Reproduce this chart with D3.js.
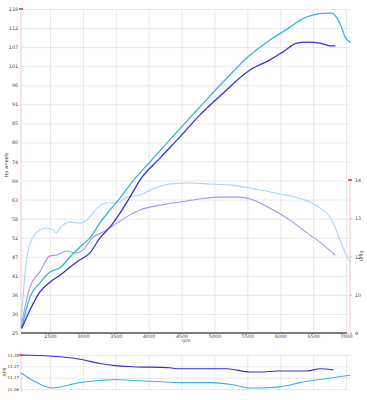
<!DOCTYPE html>
<html><head><meta charset="utf-8">
<script src="https://cdn.jsdelivr.net/npm/d3@7"></script>
<style>
body{margin:0;background:#fff;}
svg text{font-family:"DejaVu Sans",sans-serif;}
</style></head>
<body><svg id="c" width="367" height="400"></svg>
<script>
// ---- data ----
const rpmTicks = [2500,3000,3500,4000,4500,5000,5500,6000,6500,7000];
const hpTickLabels = ["25","30","36","41","47","52","58","63","69","74","80","85","91","96","101","107","112","118"];
const tqTickLabels = ["9","10","12","13","14"];
const afrTickLabels = ["11.06","11.17","11.27","11.38"];

// power run 1 (dark blue)
const pwr1Rpm = [2074,2196,2348,2500,2652,2804,2956,3108,3260,3412,3564,3716,3868,4172,4476,4780,5084,5540,5844,6042,6254,6406,6604,6756,6832];
const pwr1Hp  = [26.4,31.6,36.8,39.6,41.6,43.9,46.0,48.0,52.3,55.4,59.4,64.0,68.9,75.2,81.3,87.6,93.0,100.5,103.4,105.7,108.2,108.5,108.2,107.4,107.4];
// power run 2 (cyan)
const pwr2Rpm = [2074,2196,2348,2500,2652,2804,2956,3108,3260,3412,3564,3746,4020,4400,4780,5160,5540,5844,6148,6300,6498,6710,6786,6862,6938,6984,7060];
const pwr2Hp  = [26.7,35.3,39.4,42.5,43.7,46.8,49.7,52.3,56.6,60.3,63.7,68.3,74.1,82.1,89.9,97.6,104.8,109.1,112.8,114.8,116.3,116.8,116.8,115.4,112.5,110.0,108.5];
// torque run 2 (light blue)
const tq2Rpm = [2060,2150,2242,2348,2454,2546,2591,2652,2804,2956,3062,3214,3366,3518,3670,3868,4096,4324,4628,4932,5236,5540,5844,6148,6452,6604,6756,6832,6908,6984,7030,7060];
const tq2Val = [9.36,11.48,12.14,12.37,12.43,12.37,12.27,12.43,12.63,12.59,12.69,13.08,13.25,13.25,13.44,13.51,13.74,13.87,13.90,13.87,13.84,13.74,13.61,13.48,13.28,13.08,12.79,12.46,12.04,11.65,11.45,11.32];
// torque run 1 (lavender)
const tq1Rpm = [2060,2196,2348,2500,2606,2758,2880,3002,3138,3306,3518,3716,3868,4172,4476,4780,5084,5388,5540,5844,6148,6452,6604,6832];
const tq1Val = [9.2,10.5,11.0,11.52,11.55,11.68,11.61,11.71,12.10,12.30,12.59,12.86,13.02,13.18,13.28,13.38,13.44,13.44,13.38,13.08,12.69,12.20,11.97,11.55];
// AFR run 1 (dark blue)
const afr1Rpm = [2074,2500,2956,3260,3488,3762,4324,4430,5190,5540,5692,5950,6406,6604,6802];
const afr1Val = [11.38,11.37,11.34,11.30,11.28,11.27,11.26,11.25,11.25,11.22,11.22,11.23,11.23,11.25,11.24];
// AFR run 2 (cyan)
const afr2Rpm = [2060,2242,2530,2956,3260,3488,3762,4126,4522,4932,5282,5540,5692,5996,6300,6604,7060];
const afr2Val = [11.21,11.14,11.07,11.12,11.14,11.15,11.14,11.13,11.12,11.12,11.10,11.07,11.07,11.08,11.12,11.15,11.19];

// ---- scales ----
const svg = d3.select("#c");
const x = d3.scaleLinear().domain([2060,7060]).range([21,350]);
const yHp = d3.scaleLinear().domain([25,118]).range([333,9]);
const yTq = d3.scaleLinear().domain([9,14]).range([333,180]);
const yAfr = d3.scaleLinear().domain([11.06,11.38]).range([389,355]);

const hpVals = hpTickLabels.map((d,i)=>25 + i*93/(hpTickLabels.length-1));
const tqVals = tqTickLabels.map((d,i)=>9 + i*5/(tqTickLabels.length-1));
const afrVals = afrTickLabels.map((d,i)=>11.06 + i*0.32/(afrTickLabels.length-1));

const gridCol = "#e2e2e2";
const txtCol = "#444";

function styleAxis(g, fs){
  g.select(".domain").remove();
  g.selectAll("text").attr("font-size", fs || "5px").attr("fill",txtCol);
}

// main grid: horizontal
svg.append("g").attr("transform","translate(21,0)")
  .call(d3.axisLeft(yHp).tickValues(hpVals).tickFormat((d,i)=>hpTickLabels[i]).tickSize(-329).tickPadding(3))
  .call(g=>styleAxis(g,"4.8px"))
  .call(g=>g.selectAll("line").attr("stroke",gridCol).attr("stroke-width",0.8));
// main grid: vertical + x labels
svg.append("g").attr("transform","translate(0,333)")
  .call(d3.axisBottom(x).tickValues(rpmTicks).tickFormat(d3.format("d")).tickSize(-324).tickPadding(2))
  .call(g=>styleAxis(g,"4.8px"))
  .call(g=>g.selectAll("line").attr("stroke",gridCol).attr("stroke-width",0.8));

// right torque axis
svg.append("g").attr("transform","translate(350,0)")
  .call(d3.axisRight(yTq).tickValues(tqVals).tickFormat((d,i)=>tqTickLabels[i]).tickSize(2).tickPadding(3))
  .call(g=>styleAxis(g,"4.8px"))
  .call(g=>g.selectAll("line").attr("stroke","#bbb"));

// axis lines
svg.append("line").attr("x1",21).attr("x2",21).attr("y1",yHp(118)).attr("y2",333).attr("stroke","#f0c8c8").attr("stroke-width",1);
svg.append("line").attr("x1",350).attr("x2",350).attr("y1",yTq(14)).attr("y2",333).attr("stroke","#f0c8c8").attr("stroke-width",1);
svg.append("line").attr("x1",21).attr("x2",347).attr("y1",333).attr("y2",333).attr("stroke","#555").attr("stroke-width",1.5);
// red max markers
svg.append("line").attr("x1",19).attr("x2",23).attr("y1",yHp(118)).attr("y2",yHp(118)).attr("stroke","#e03030").attr("stroke-width",1.5);
svg.append("line").attr("x1",348).attr("x2",352).attr("y1",yTq(14)).attr("y2",yTq(14)).attr("stroke","#e03030").attr("stroke-width",1.5);

// axis titles
svg.append("text").attr("transform","translate(8,165) rotate(-90)").attr("text-anchor","middle").attr("font-size","4.8px").attr("fill",txtCol).text("Hp wheels");
svg.append("text").attr("x",186).attr("y",342).attr("text-anchor","middle").attr("font-size","4.5px").attr("fill",txtCol).text("rpm");
svg.append("text").attr("transform","translate(360,256) rotate(90)").attr("text-anchor","middle").attr("font-size","4.8px").attr("fill",txtCol).text("kgm");

// ---- AFR panel ----
svg.append("g").attr("transform","translate(21,0)")
  .call(d3.axisLeft(yAfr).tickValues(afrVals).tickFormat((d,i)=>afrTickLabels[i]).tickSize(-329).tickPadding(2))
  .call(g=>styleAxis(g,"4px"))
  .call(g=>g.selectAll("line").attr("stroke",gridCol).attr("stroke-width",0.8));
svg.append("g").attr("transform","translate(0,389)")
  .call(d3.axisBottom(x).tickValues(rpmTicks).tickFormat("").tickSize(-34))
  .call(g=>styleAxis(g))
  .call(g=>g.selectAll("line").attr("stroke",gridCol).attr("stroke-width",0.8));
svg.append("line").attr("x1",21).attr("x2",21).attr("y1",352).attr("y2",392).attr("stroke","#f0c8c8").attr("stroke-width",1);
svg.append("line").attr("x1",19).attr("x2",23).attr("y1",yAfr(11.38)).attr("y2",yAfr(11.38)).attr("stroke","#e03030").attr("stroke-width",1.5);
svg.append("text").attr("transform","translate(6,372) rotate(-90)").attr("text-anchor","middle").attr("font-size","4.5px").attr("fill",txtCol).text("AFR");

// ---- lines ----
function drawLine(rpms, vals, yS, color, w){
  const pts = rpms.map((r,i)=>[r, vals[i]]);
  svg.append("path").datum(pts)
    .attr("fill","none").attr("stroke",color).attr("stroke-width",w)
    .attr("stroke-linejoin","round").attr("stroke-linecap","round")
    .attr("d", d3.line().x(d=>x(d[0])).y(d=>yS(d[1])).curve(d3.curveMonotoneX));
}
drawLine(tq2Rpm, tq2Val, yTq, "#a6d6f2", 1.1);
drawLine(tq1Rpm, tq1Val, yTq, "#a497ea", 1.1);
drawLine(pwr2Rpm, pwr2Hp, yHp, "#3ab2e6", 1.3);
drawLine(pwr1Rpm, pwr1Hp, yHp, "#3a2ed2", 1.3);
drawLine(afr1Rpm, afr1Val, yAfr, "#3a2ed2", 1.1);
drawLine(afr2Rpm, afr2Val, yAfr, "#3ab2e6", 1.1);
</script>
</body></html>
